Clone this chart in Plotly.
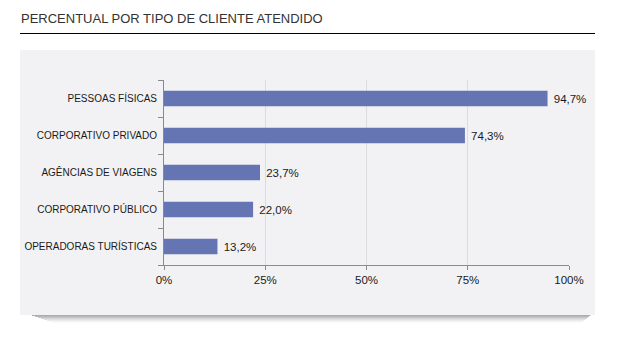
import plotly.graph_objects as go

categories = ["PESSOAS FÍSICAS", "CORPORATIVO PRIVADO", "AGÊNCIAS DE VIAGENS",
              "CORPORATIVO PÚBLICO", "OPERADORAS TURÍSTICAS"]
values = [94.7, 74.3, 23.7, 22.0, 13.2]
x_ticks = [0, 25, 50, 75, 100]
x_tick_labels = ["0%", "25%", "50%", "75%", "100%"]
title_text = "PERCENTUAL POR TIPO DE CLIENTE ATENDIDO"

W, H = 622, 343
L, R, T, B = 164, 569, 80, 265  # plot area in px


def px(x):
    return (x - L) / (R - L)


def py(y):
    return (B - y) / (B - T)


FONT = "Liberation Sans, Arial, sans-serif"

fig = go.Figure(go.Bar(
    x=values, y=categories, orientation="h",
    marker=dict(color="#6574b3", line=dict(width=0)),
    texttemplate="\u00a0%{x:.1f}%", textposition="outside",
    textfont=dict(family=FONT, size=11.5, color="#1a1a1a"),
    cliponaxis=False, width=0.42,
))

shapes = []
# panel background
shapes.append(dict(type="rect", xref="paper", yref="paper", layer="below",
                   x0=px(20), x1=px(595), y0=py(50), y1=py(315),
                   fillcolor="#f2f2f4", line=dict(width=0)))
# shadow below panel
shadow = [(0, 0.65), (1, 0.55), (2, 0.45), (3, 0.34), (4, 0.24), (5, 0.16), (6, 0.09), (7, 0.04)]
for i, op in shadow:
    inset = 12 + i * 3
    shapes.append(dict(type="rect", xref="paper", yref="paper", layer="below",
                       x0=px(20 + inset), x1=px(595 - inset * 0.4),
                       y0=py(315 + i), y1=py(316 + i),
                       fillcolor="#808080", opacity=op, line=dict(width=0)))
# title rule
shapes.append(dict(type="line", xref="paper", yref="paper",
                   x0=px(20), x1=px(595), y0=py(33.5), y1=py(33.5),
                   line=dict(color="#000000", width=1)))

fig.update_layout(
    width=W, height=H,
    margin=dict(l=L, r=W - R, t=T, b=H - B),
    paper_bgcolor="white", plot_bgcolor="rgba(0,0,0,0)",
    separators=",.",
    showlegend=False,
    shapes=shapes,
    annotations=[dict(text=title_text, xref="paper", yref="paper",
                      x=px(19), y=py(18), xanchor="left", yanchor="middle",
                      showarrow=False,
                      font=dict(family=FONT, size=13, color="#333333"))],
    xaxis=dict(range=[0, 100], tickvals=x_ticks, ticktext=x_tick_labels,
               showgrid=True, gridcolor="#dcdcdf", gridwidth=1,
               showline=True, linecolor="#8a8a8a", linewidth=1,
               ticks="outside", ticklen=4, tickcolor="#8a8a8a",
               zeroline=False,
               tickfont=dict(family=FONT, size=11.5, color="#1a1a1a")),
    yaxis=dict(categoryorder="array", categoryarray=categories[::-1],
               showgrid=False, showline=True, linecolor="#8a8a8a", linewidth=1,
               ticks="outside", ticklen=5, tickcolor="#8a8a8a",
               tickson="boundaries", zeroline=False, ticklabelstandoff=4,
               tickfont=dict(family=FONT, size=10, color="#1a1a1a")),
)

fig.write_html("out.html")
